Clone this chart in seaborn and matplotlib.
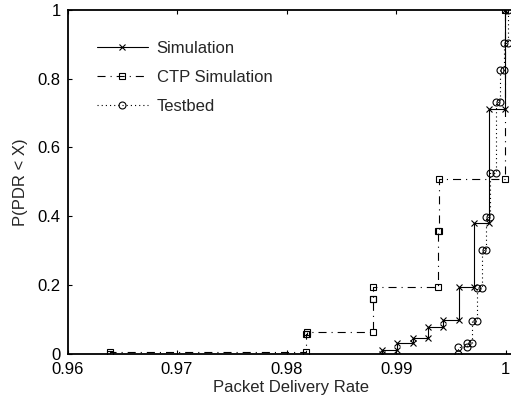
import matplotlib
matplotlib.use("Agg")
import matplotlib.pyplot as plt
import seaborn as sns

# ---------------- data (step-corner vertices) ----------------
sim_x = [0.98872, 0.98872, 0.99009, 0.99009, 0.99149, 0.99149, 0.99286, 0.99286,
         0.99429, 0.99429, 0.99569, 0.99569, 0.99706, 0.99706, 0.99843, 0.99843,
         0.99989, 0.99989]
sim_y = [0.0, 0.009, 0.009, 0.030, 0.030, 0.044, 0.044, 0.077,
         0.077, 0.097, 0.097, 0.193, 0.193, 0.381, 0.381, 0.712,
         0.712, 1.0]

ctp_x = [0.96388, 0.96388, 0.98174, 0.98174, 0.98182, 0.98182, 0.98785, 0.98785,
         0.98792, 0.98792, 0.99386, 0.99386, 0.99390, 0.99390, 0.99989, 0.99989]
ctp_y = [0.0, 0.004, 0.004, 0.056, 0.056, 0.063, 0.063, 0.160,
         0.160, 0.195, 0.195, 0.357, 0.357, 0.507, 0.507, 1.0]

tb_x = [0.99566, 0.99566, 0.99648, 0.99648, 0.99689, 0.99689, 0.99740, 0.99740,
        0.99781, 0.99781, 0.99817, 0.99817, 0.99858, 0.99858, 0.99913, 0.99913,
        0.99950, 0.99950, 0.99985, 0.99985, 1.00020, 1.00020]
tb_y = [0.0, 0.018, 0.018, 0.031, 0.031, 0.096, 0.096, 0.191,
        0.191, 0.302, 0.302, 0.398, 0.398, 0.525, 0.525, 0.733,
        0.733, 0.826, 0.826, 0.905, 0.905, 1.0]

series_names = ["Simulation", "CTP Simulation", "Testbed"]
x_ticks = [0.96, 0.97, 0.98, 0.99, 1.0]
x_tick_labels = ["0.96", "0.97", "0.98", "0.99", "1"]
y_ticks = [0.0, 0.2, 0.4, 0.6, 0.8, 1.0]
y_tick_labels = ["0", "0.2", "0.4", "0.6", "0.8", "1"]
x_label = "Packet Delivery Rate"
y_label = "P(PDR < X)"

# ---------------- style ----------------
sns.set_style("ticks")
plt.rcParams["font.family"] = ["Liberation Sans", "DejaVu Sans"]
plt.rcParams["lines.scale_dashes"] = False

fig = plt.figure(figsize=(5.11, 3.99), dpi=100)
ax = fig.add_axes([67.5 / 511, 1 - 353.5 / 399, (514.5 - 67.5) / 511, (353.5 - 10) / 399])

lw = 0.8
sns.lineplot(x=sim_x, y=sim_y, sort=False, estimator=None, ax=ax, color="black",
             linewidth=lw, linestyle="-", marker="x", markersize=4,
             markeredgecolor="black", markeredgewidth=0.8, label=series_names[0])
sns.lineplot(x=ctp_x, y=ctp_y, sort=False, estimator=None, ax=ax, color="black",
             linewidth=lw, linestyle=(0, (5.8, 3.6, 0.8, 3.6)), marker="s", markersize=4,
             markeredgecolor="black", markerfacecolor="none", markeredgewidth=0.8,
             label=series_names[1])
sns.lineplot(x=tb_x, y=tb_y, sort=False, estimator=None, ax=ax, color="black",
             linewidth=lw, linestyle=(0, (0.8, 2.2)), marker="o", markersize=5,
             markeredgecolor="black", markerfacecolor="none", markeredgewidth=0.8,
             label=series_names[2])

ax.set_xlim(0.96, 1.0008)
ax.set_ylim(0, 1)
ax.set_xticks(x_ticks)
ax.set_xticklabels(x_tick_labels)
ax.set_yticks(y_ticks)
ax.set_yticklabels(y_tick_labels)
ax.tick_params(direction="in", length=3, width=0.8, top=True, right=True,
               labelsize=12, colors="black")
ax.tick_params(axis="x", pad=6)
ax.tick_params(axis="y", pad=5)
for s in ax.spines.values():
    s.set_linewidth(1.3)
    s.set_color("black")
    s.set_visible(True)

ax.set_xlabel(x_label, fontsize=12, labelpad=2)
ax.set_ylabel(y_label, fontsize=12, labelpad=7)

ax.legend(loc="upper left", bbox_to_anchor=(0.065, 0.91), frameon=False,
          fontsize=12, handlelength=3.1, handletextpad=0.5, labelspacing=0.85,
          borderpad=0, borderaxespad=0, numpoints=1)

fig.savefig("out.png", dpi=100)
